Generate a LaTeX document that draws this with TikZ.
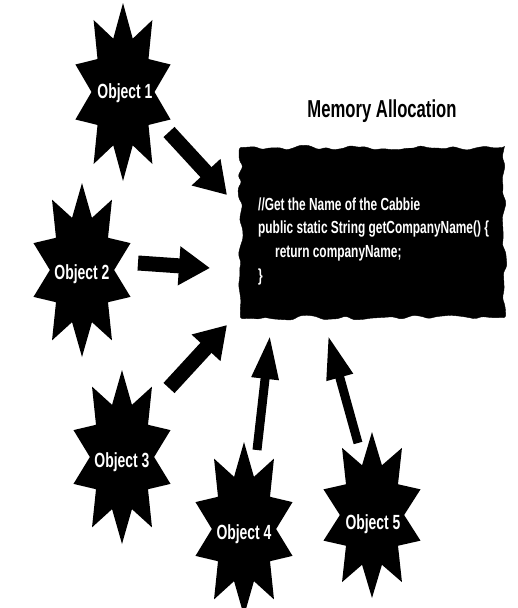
\documentclass[tikz,border=0pt]{standalone}
\usepackage{fontspec}
\newfontfamily\condfont[FakeStretch=0.68]{Liberation Sans Bold}
\usetikzlibrary{arrows.meta,decorations.pathmorphing}
\newcommand\starblob[4]{% cx cy rx ry (image pixel coordinates)
  \fill[black] ({#1},{#2-#4}) \foreach \i in {1,...,19}{
    -- ({#1+#3*ifthenelse(mod(\i,2)==1,0.63,1)*cos(90+18*\i)},
        {#2-#4*ifthenelse(mod(\i,2)==1,0.63,1)*sin(90+18*\i)}) } -- cycle;}
\tikzset{
  objlabel/.style={text=white, font=\condfont\fontsize{20.5}{23}\selectfont, inner sep=0pt, anchor=base},
  codeline/.style={text=white, font=\condfont\fontsize{17.5}{24}\selectfont, inner sep=0pt, anchor=base west},
  titletext/.style={text=black, font=\condfont\fontsize{24.5}{27}\selectfont, inner sep=0pt, anchor=base},
  membox/.style={fill=black, draw=black, minimum width=264pt, minimum height=170pt, inner sep=0pt,
    decorate, decoration={random steps, segment length=8pt, amplitude=2.6pt}, rounded corners=2.5pt},
  bigarrow/.style={line width=15pt, -{Triangle[length=31pt,width=37pt]}},
  thinarrow/.style={line width=9pt, -{Triangle[length=44pt,width=25pt]}}
}
\pgfmathsetseed{7}
\begin{document}
\begin{tikzpicture}[x=1pt,y=-1pt]
\useasboundingbox (0,0) rectangle (517,608);
\clip (0,0) rectangle (517,608);
% memory block
\node[membox] (mem) at (372.5,232.5) {};
\node[titletext] (title) at (382,117) {Memory Allocation};
\node[codeline] (c1) at (258,210) {//Get the Name of the Cabbie};
\node[codeline] (c2) at (258,233) {public static String getCompanyName() \{};
\node[codeline] (c3) at (275,257) {return companyName;};
\node[codeline] (c4) at (258,281) {\}};
% stars
\starblob{123}{92}{50}{89}
\starblob{82}{270}{51}{87}
\starblob{122}{457}{51}{87}
\starblob{244}{529}{51}{87}
\starblob{372}{515}{51}{83}
\node[objlabel] (o1) at (125,98) {Object 1};
\node[objlabel] (o2) at (82,279.5) {Object 2};
\node[objlabel] (o3) at (122,467) {Object 3};
\node[objlabel] (o4) at (244,539) {Object 4};
\node[objlabel] (o5) at (373,529) {Object 5};
% arrow ends
\coordinate (a1s) at (169,132);
\coordinate (a1e) at (227,195);
\coordinate (a2s) at (138,263);
\coordinate (a2e) at (210,268);
\coordinate (a3s) at (169,388);
\coordinate (a3e) at (227,325);
\coordinate (a4s) at (257,450);
\coordinate (a4e) at (270,335);
\coordinate (a5s) at (358,443);
\coordinate (a5e) at (328,335);
\draw[bigarrow] (a1s) -- (a1e);
\draw[bigarrow] (a2s) -- (a2e);
\draw[bigarrow] (a3s) -- (a3e);
\draw[thinarrow] (a4s) -- (a4e);
\draw[thinarrow] (a5s) -- (a5e);
\end{tikzpicture}
\end{document}
